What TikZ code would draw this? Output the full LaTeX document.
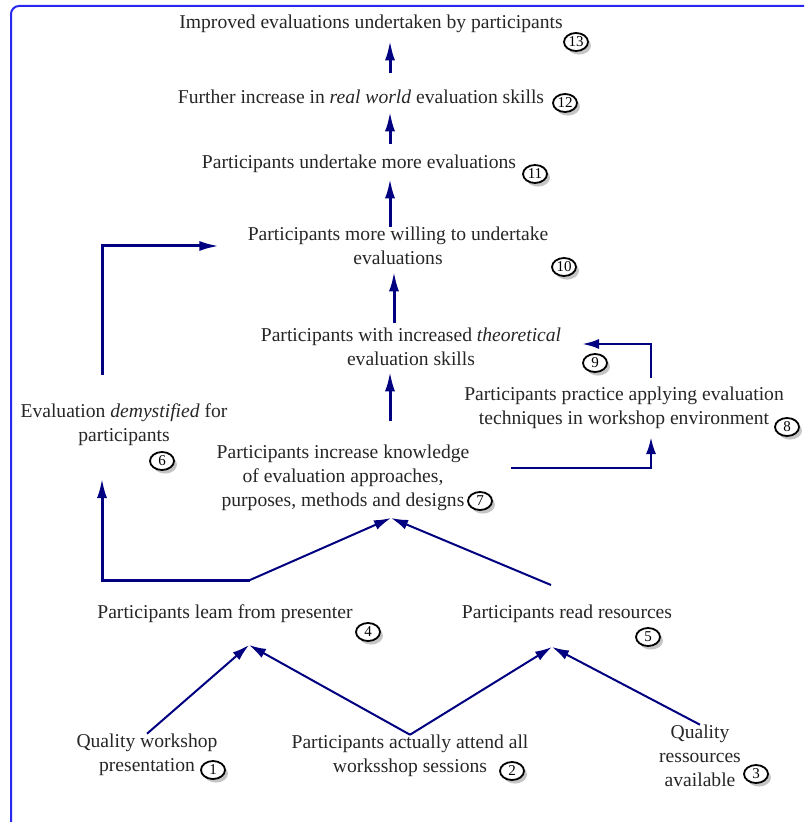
\documentclass[tikz,border=0pt]{standalone}
\usepackage{fontspec}
\setmainfont{Liberation Serif}
\usetikzlibrary{arrows.meta,shapes.geometric,shadows}
\definecolor{navyarrow}{RGB}{0,0,128}
\definecolor{frameblue}{RGB}{40,40,240}

\begin{document}
\begin{tikzpicture}[x=0.5pt, y=-0.5pt, font=\fontsize{9.8}{12}\selectfont,
    outcome/.style={align=center, text=black!85, inner sep=0pt},
    badge/.style={ellipse, draw, line width=0.9pt, fill=white, inner sep=0pt,
        minimum width=12pt, minimum height=9pt, font=\fontsize{7.5}{8}\selectfont,
        drop shadow={shadow xshift=1.5pt, shadow yshift=-1.8pt, fill=black!45}},
    flow/.style={draw=navyarrow, line width=1pt, -{Latex[length=8.5pt, width=5pt]}},
    bigflow/.style={flow, line width=1.5pt, -{Latex[length=10pt, width=5pt]}}]
    \useasboundingbox (0,0) rectangle (804,822);

    % Frame
    \draw[frameblue, line width=1pt, rounded corners=4pt] (11,822) -- (11,6) -- (804,6);

    % Outcomes
    \node[outcome] (n13) at (371,24) {Improved evaluations undertaken by participants};
    \node[outcome] (n12) at (361,97) {Further increase in \textit{real world} evaluation skills};
    \node[outcome] (n11) at (359,164) {Participants undertake more evaluations};
    \node[outcome] (n10) at (398,246) {Participants more willing to undertake\\evaluations};
    \node[outcome] (n9) at (411,347) {Participants with increased \textit{theoretical}\\evaluation skills};
    \node[outcome] (n8) at (624,408) {Participants practice applying evaluation\\techniques in workshop environment};
    \node[outcome] (n7) at (343,478) {Participants increase knowledge\\of evaluation approaches,\\purposes, methods and designs};
    \node[outcome] (n6) at (124,425) {Evaluation \textit{demystified} for\\participants};
    \node[outcome] (n4) at (225,614) {Participants leam from presenter};
    \node[outcome] (n5) at (567,614) {Participants read resources};
    \node[outcome] (n1) at (147,755) {Quality workshop\\presentation};
    \node[outcome] (n2) at (410,756) {Participants actually attend all\\worksshop sessions};
    \node[outcome] (n3) at (700,756) {Quality\\ressources\\available};

    % Numbers
    \node[badge] (b13) at (576,42) {13};
    \node[badge] (b12) at (565,103) {12};
    \node[badge] (b11) at (535,174) {11};
    \node[badge] (b10) at (564,267) {10};
    \node[badge] (b9) at (595,363) {9};
    \node[badge] (b8) at (787,427) {8};
    \node[badge] (b7) at (480,501) {7};
    \node[badge] (b6) at (162,461) {6};
    \node[badge] (b5) at (648,637) {5};
    \node[badge] (b4) at (368,632) {4};
    \node[badge] (b3) at (756,774) {3};
    \node[badge] (b2) at (512,771) {2};
    \node[badge] (b1) at (213,770) {1};

    % Joints
    \coordinate (spine) at (390,0);
    \coordinate (pk4) at (249,645);
    \coordinate (pk5) at (552,647);
    \coordinate (pk7) at (391,518);
    \coordinate (j4) at (250,580);
    \coordinate (j5) at (551,585);
    \coordinate (c6dn) at (102,478);
    \coordinate (c6up) at (102,375);
    \coordinate (c7r) at (511,468);
    \coordinate (c8dn) at (651,437);
    \coordinate (c8up) at (651,378);
    \coordinate (c9r) at (582,344);

    % Chain upwards
    \draw[bigflow, shorten <=8.5pt, shorten >=3.5pt] (n12.north -| spine) -- (n13.south -| spine);
    \draw[bigflow, shorten <=5.5pt, shorten >=3.5pt] (n11.north -| spine) -- (n12.south -| spine);
    \draw[bigflow, shorten >=2.5pt] (n10.north -| spine) -- (n11.south -| spine);
    \draw[bigflow, shorten <=2.5pt, shorten >=3pt] ([xshift=2pt]n9.north -| spine) -- ([xshift=2pt]n10.south -| spine);
    \draw[bigflow, shorten <=12pt, shorten >=2.5pt] (n7.north -| spine) -- (n9.south -| spine);

    % Bottom level
    \draw[flow] (n1.north) -- (pk4);
    \draw[flow] (n2.north) -- (pk4);
    \draw[flow] (n2.north) -- (pk5);
    \draw[flow] (n3.north) -- (pk5);
    \draw[flow] (j4) -- (pk7);
    \draw[flow] (j5) -- (pk7);

    % Side loops
    \draw[bigflow] (j4) -| (c6dn);
    \draw[bigflow, shorten >=14pt] (c6up) |- (n10.west);
    \draw[flow, line width=1.3pt] (c7r) -| (c8dn);
    \draw[flow, line width=1.3pt] (c8up) |- (c9r);
\end{tikzpicture}
\end{document}
